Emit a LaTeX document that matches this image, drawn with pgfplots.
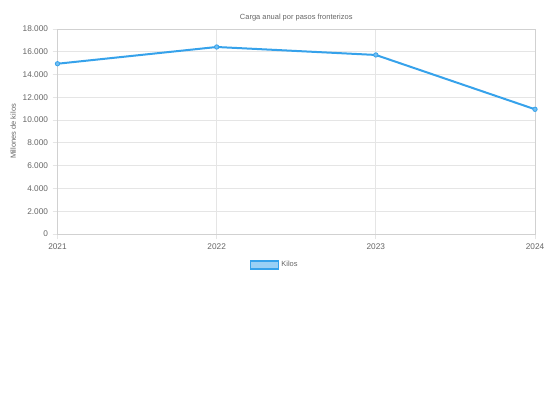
\documentclass[border=0pt]{standalone}
\usepackage{pgfplots}
\pgfplotsset{compat=1.18}
\usepackage{fontspec}
\setmainfont{Liberation Sans}
\definecolor{cjblue}{HTML}{36A2EB}
\definecolor{cjfill}{HTML}{9AD0F5}
\definecolor{txt}{HTML}{666666}
\definecolor{grd}{HTML}{E5E5E5}
\begin{document}
\begin{tikzpicture}[x=1bp,y=1bp]
\path[fill=white] (0,0) rectangle (552,414);
\begin{axis}[
  at={(57.5bp,180bp)}, anchor=south west,
  scale only axis, width=477.5bp, height=205bp,
  xmin=2021, xmax=2024, ymin=0, ymax=18000,
  xtick={2021,2022,2023,2024},
  xticklabels={2021,2022,2023,2024},
  ytick={0,2000,...,18000},
  xtick pos=bottom, ytick pos=left,
  scaled y ticks=false,
  /pgf/number format/.cd, 1000 sep={.}, assume math mode=true,
  /pgfplots/.cd,
  grid=major,
  grid style={grd, line width=0.8bp},
  axis line style={grd!80!gray, line width=0.8bp},
  tick align=outside, major tick length=5bp,
  tick style={grd, line width=0.8bp},
  ticklabel style={font=\fontsize{8.3}{9}\selectfont, text=txt},
  xticklabel style={yshift=-1bp},
  yticklabel style={xshift=-1bp},
  ylabel={Millones de kilos},
  ylabel style={font=\fontsize{7.5}{9}\selectfont, text=txt, at={(axis description cs:-0.093,0.5)}, anchor=center},
  title={Carga anual por pasos fronterizos},
  title style={font=\fontsize{7.5}{9}\selectfont, text=txt, yshift=-2bp},
  legend style={at={(0.455,-0.151)}, anchor=center, draw=none, fill=none,
    font=\fontsize{7.5}{9}\selectfont, text=txt, inner sep=0pt},
  legend cell align=left,
  legend image code/.code={\draw[fill=cjfill, draw=cjblue, line width=1.5bp] (0bp,-4bp) rectangle (28bp,4bp);},
  clip=false,
]
\addplot[cjblue, line width=2bp, mark=*, mark size=2.2bp, mark options={fill=cjblue!70!white, draw=cjblue, line width=0.8bp}]
  coordinates {(2021,14950) (2022,16420) (2023,15720) (2024,10950)};
\addlegendentry{Kilos}
\end{axis}
\end{tikzpicture}
\end{document}
